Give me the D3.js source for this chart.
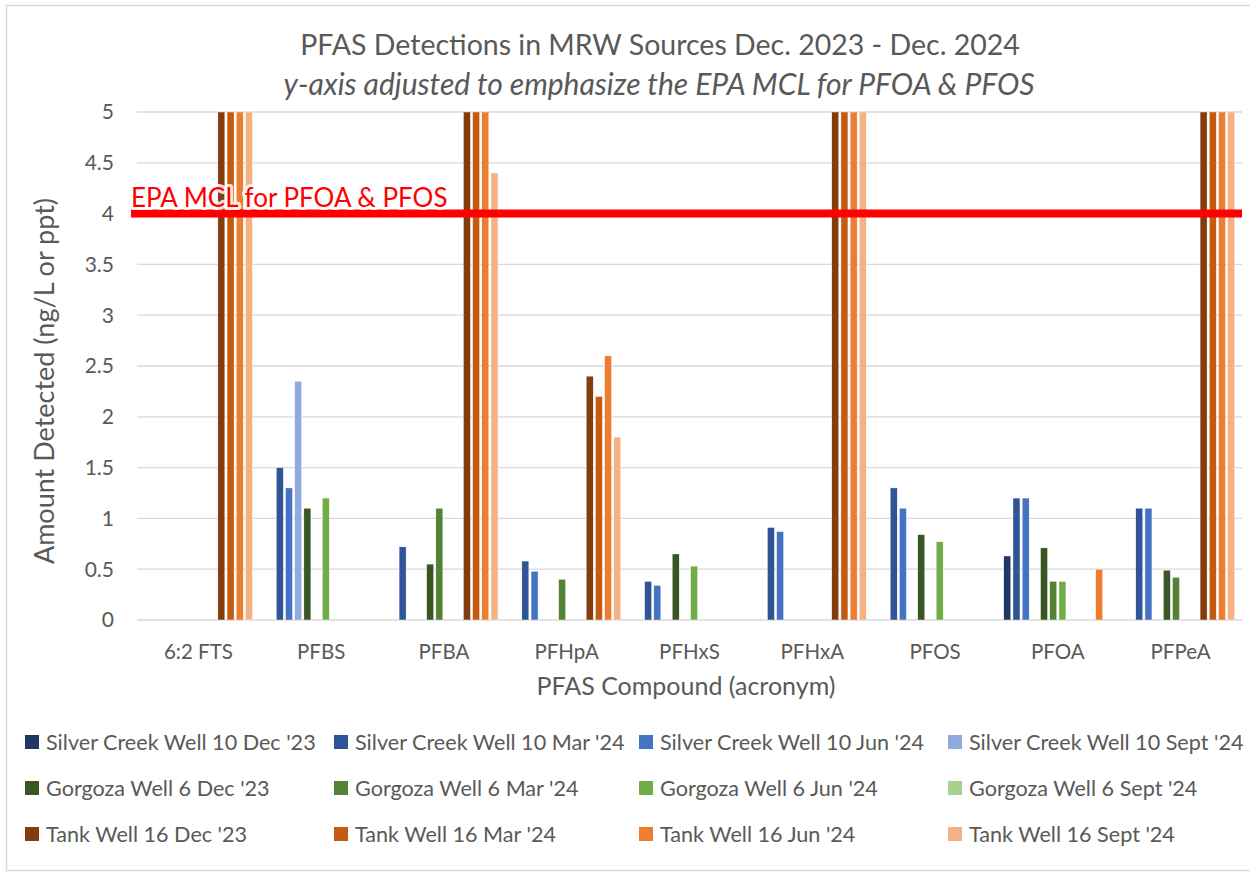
<!DOCTYPE html>
<html>
<head>
<meta charset="utf-8">
<script src="https://cdn.jsdelivr.net/npm/d3@7"></script>
<style>
  body { margin: 0; background: #fff; }
  text { font-family: Lato, "Open Sans", sans-serif; fill: #595959; }
</style>
</head>
<body>
<div id="chart"></div>
<script>
// 数据
const categories = ['6:2 FTS', 'PFBS', 'PFBA', 'PFHpA', 'PFHxS', 'PFHxA', 'PFOS', 'PFOA', 'PFPeA'];
const seriesNames = [
    "Silver Creek Well 10 Dec '23", "Silver Creek Well 10 Mar '24", "Silver Creek Well 10 Jun '24", "Silver Creek Well 10 Sept '24",
    "Gorgoza Well 6 Dec '23", "Gorgoza Well 6 Mar '24", "Gorgoza Well 6 Jun '24", "Gorgoza Well 6 Sept '24",
    "Tank Well 16 Dec '23", "Tank Well 16 Mar '24", "Tank Well 16 Jun '24", "Tank Well 16 Sept '24"
];
const seriesColors = [
    '#203864', '#2f5597', '#4472c4', '#8faadc',
    '#385723', '#548235', '#70ad47', '#a9d18e',
    '#843c0c', '#c55a11', '#ed7d31', '#f4b183'
];
// 每个化合物一行，顺序同 seriesNames；null = 未检出；超过 5 的被截断
const scDec = [null, null, null, null, null, null, null, 0.63, null];
const scMar = [null, 1.5, 0.72, 0.58, 0.38, 0.91, 1.3, 1.2, 1.1];
const scJun = [null, 1.3, null, 0.48, 0.34, 0.87, 1.1, 1.2, 1.1];
const scSep = [null, 2.35, null, null, null, null, null, null, null];
const gDec = [null, 1.1, 0.55, null, 0.65, null, 0.84, 0.71, 0.49];
const gMar = [null, null, 1.1, 0.4, null, null, null, 0.38, 0.42];
const gJun = [null, 1.2, null, null, 0.53, null, 0.77, 0.38, null];
const gSep = [null, null, null, null, null, null, null, null, null];
const tDec = [5.5, null, 5.5, 2.4, null, 5.5, null, null, 5.5];
const tMar = [5.5, null, 5.5, 2.2, null, 5.5, null, null, 5.5];
const tJun = [5.5, null, 5.5, 2.6, null, 5.5, null, 0.5, 5.5];
const tSep = [5.5, null, 4.4, 1.8, null, 5.5, null, null, 5.5];
const seriesValues = [scDec, scMar, scJun, scSep, gDec, gMar, gJun, gSep, tDec, tMar, tJun, tSep];
const yTicks = [0, 0.5, 1, 1.5, 2, 2.5, 3, 3.5, 4, 4.5, 5];
const mclValue = 4;

const width = 1250, height = 874;
const margin = {left: 137, right: 8, top: 112, bottom: 254};

const svg = d3.select('#chart').append('svg')
    .attr('width', width)
    .attr('height', height);

// 外框
svg.append('rect')
    .attr('x', 6.5).attr('y', 5.5)
    .attr('width', 1260).attr('height', 865)
    .attr('fill', '#fff')
    .attr('stroke', '#d9d9d9')
    .attr('stroke-width', 1.5);

let x0 = d3.scaleBand()
    .domain(categories)
    .range([margin.left, width - margin.right])
    .padding(0);
let x1 = d3.scaleBand()
    .domain(d3.range(seriesNames.length))
    .range([0, x0.bandwidth()])
    .paddingInner(0.24)
    .paddingOuter(0.8);
let y = d3.scaleLinear()
    .domain([0, 5])
    .range([height - margin.bottom, margin.top])
    .clamp(true);

// 网格线
svg.append('g')
    .selectAll('line')
    .data(yTicks)
    .join('line')
    .attr('x1', margin.left)
    .attr('x2', width - margin.right)
    .attr('y1', d => y(d))
    .attr('y2', d => y(d))
    .attr('stroke', '#d9d9d9')
    .attr('stroke-width', 1.3);

// y轴刻度
svg.append('g')
    .selectAll('text')
    .data(yTicks)
    .join('text')
    .attr('x', 114)
    .attr('y', d => y(d))
    .attr('dy', '0.35em')
    .attr('text-anchor', 'end')
    .style('font-size', '21px')
    .text(d => d);

// 柱子
let groups = svg.append('g')
    .selectAll('g')
    .data(categories)
    .join('g')
    .attr('transform', d => `translate(${x0(d)},0)`);

groups.selectAll('rect')
    .data((c, ci) => seriesValues.map((vals, si) => ({si: si, v: vals[ci]})).filter(d => d.v !== null))
    .join('rect')
    .attr('x', d => x1(d.si))
    .attr('width', x1.bandwidth())
    .attr('y', d => y(d.v))
    .attr('height', d => y(0) - y(d.v))
    .attr('fill', d => seriesColors[d.si])
    .attr('stroke', '#fff')
    .attr('stroke-width', 0.4);

// x轴标签
svg.append('g')
    .selectAll('text')
    .data(categories)
    .join('text')
    .attr('x', d => x0(d) + x0.bandwidth() / 2)
    .attr('y', 659)
    .attr('text-anchor', 'middle')
    .style('font-size', '20.5px')
    .text(d => d);

// EPA MCL 红线
svg.append('line')
    .attr('x1', 131)
    .attr('x2', width - margin.right)
    .attr('y1', y(mclValue))
    .attr('y2', y(mclValue))
    .attr('stroke', '#ff0000')
    .attr('stroke-width', 8);

svg.append('text')
    .attr('x', 131)
    .attr('y', 207)
    .style('font-size', '26px')
    .style('fill', '#ff0000')
    .style('stroke', 'rgba(255,255,255,0.85)')
    .style('stroke-width', '6px')
    .style('paint-order', 'stroke')
    .style('stroke-linejoin', 'round')
    .text('EPA MCL for PFOA & PFOS');

// 标题
svg.append('text')
    .attr('x', 660)
    .attr('y', 55)
    .attr('text-anchor', 'middle')
    .style('font-size', '28.5px')
    .text('PFAS Detections in MRW Sources Dec. 2023 - Dec. 2024');
svg.append('text')
    .attr('x', 659)
    .attr('y', 95)
    .attr('text-anchor', 'middle')
    .style('font-size', '30px')
    .style('font-style', 'italic')
    .text('y-axis adjusted to emphasize the EPA MCL for PFOA & PFOS');

// 轴标题
svg.append('text')
    .attr('transform', 'translate(54,381) rotate(-90)')
    .attr('text-anchor', 'middle')
    .style('font-size', '27px')
    .text('Amount Detected (ng/L or ppt)');
svg.append('text')
    .attr('x', 686)
    .attr('y', 695)
    .attr('text-anchor', 'middle')
    .style('font-size', '25px')
    .text('PFAS Compound (acronym)');

// 图例
const legendCols = [25, 334, 639, 948];
const legendRows = [742, 788, 834];
let legend = svg.append('g')
    .selectAll('g')
    .data(seriesNames)
    .join('g')
    .attr('transform', (d, i) => `translate(${legendCols[i % 4]},${legendRows[Math.floor(i / 4)]})`);
legend.append('rect')
    .attr('x', 0).attr('y', -7)
    .attr('width', 14).attr('height', 14)
    .attr('fill', (d, i) => seriesColors[i]);
legend.append('text')
    .attr('x', 21)
    .attr('y', 0)
    .attr('dy', '0.35em')
    .style('font-size', '21.6px')
    .text(d => d);
</script>
</body>
</html>
